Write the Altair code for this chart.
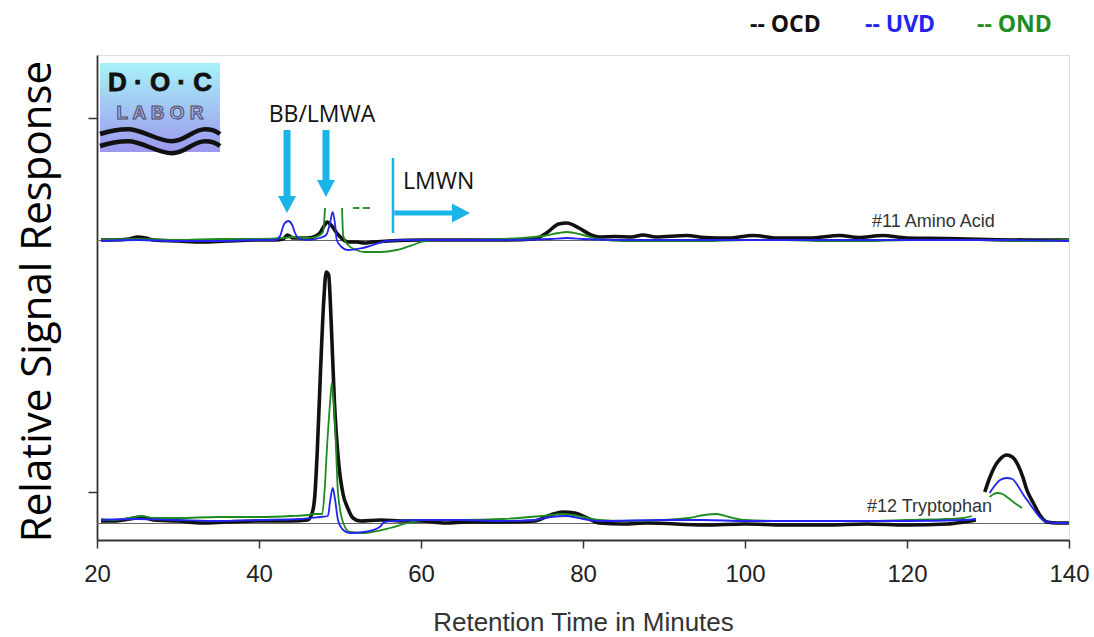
import altair as alt
import pandas as pd

# ---------------- data (retention time in minutes, relative signal) ----------------
# #11 Amino Acid (upper chromatogram)
AA_OCD_T = [20.5, 22, 24, 25, 26, 27, 30, 33, 36, 40, 42, 43, 43.5, 44.2, 46, 47, 47.6, 48.1, 48.4, 49,
            49.6, 50.3, 51, 52, 53, 54, 56, 60, 65, 70, 74, 75.5, 77, 78, 79.5, 81, 82, 84, 86, 87.4,
            89, 92.8, 95, 98, 101, 104, 108, 111.7, 114, 117, 120, 125, 130, 135, 140]
AA_OCD_V = [60.0, 60.0, 60.2, 60.6, 60.4, 60.0, 59.8, 59.6, 59.8, 60.0, 60.0, 60.2, 61.0, 60.4, 60.4, 60.8, 61.6, 63.0, 63.6, 62.8,
            61.4, 60.2, 59.6, 59.6, 59.4, 59.6, 59.8, 60.0, 60.0, 60.0, 60.2, 61.4, 63.2, 63.4, 62.4, 61.0, 60.6, 60.7, 60.6, 61.0,
            60.6, 60.9, 60.5, 60.4, 60.9, 60.4, 60.4, 60.9, 60.5, 60.9, 60.4, 60.3, 60.1, 60.0, 60.0]

AA_UVD_T = [20.5, 25, 30, 35, 40, 42, 42.6, 43.1, 43.6, 44.1, 44.4, 45, 46, 47.5, 48.3, 48.8, 49.1, 49.4, 49.6,
            50.2, 50.9, 52.8, 55.8, 58, 65, 70, 76, 78, 80, 85, 95, 100, 110, 120, 130, 140]
AA_UVD_V = [59.8, 60.0, 59.8, 59.8, 60.0, 60.0, 60.8, 63.2, 63.8, 63.0, 61.6, 60.2, 60.0, 60.4, 61.0, 63.6, 65.6, 63.0, 60.0,
            58.6, 58.0, 58.4, 59.8, 60.0, 60.0, 60.0, 60.2, 60.4, 60.2, 60.0, 60.0, 60.0, 60.0, 60.0, 60.0, 59.8]

AA_OND_T1 = [20.5, 25, 30, 35, 40, 43, 44, 46, 47, 47.9, 48.15]
AA_OND_V1 = [60.0, 60.2, 60.0, 60.2, 60.2, 60.4, 60.6, 60.4, 60.6, 61.6, 66.4]
AA_OND_T2 = [50.25, 50.4, 51, 52, 53, 55, 57, 59, 60, 62, 65, 70, 75, 77, 78, 80, 82, 85, 90, 95,
             100, 105, 110, 115, 120, 125, 130, 135, 140]
AA_OND_V2 = [66.4, 60.8, 59.0, 58.0, 57.6, 57.6, 58.0, 59.0, 59.6, 60.0, 60.0, 60.2, 60.8, 61.4, 61.6, 61.0, 60.2, 59.8, 59.8, 59.8,
             60.0, 60.0, 59.8, 59.8, 60.0, 60.0, 60.0, 59.8, 60.0]
AA_OND_T3 = [51.6, 52.4]
AA_OND_V3 = [66.4, 66.4]
AA_OND_T4 = [52.8, 53.7]
AA_OND_V4 = [66.4, 66.4]

# #12 Tryptophan (lower chromatogram)
TR_OCD_T1 = [20.5, 22, 24, 25.5, 27, 30, 33, 36, 40, 44, 46, 46.6, 46.9, 47.2, 47.6, 48.0, 48.3, 48.6, 48.9,
             49.3, 49.8, 50.4, 50.9, 51.6, 52.5, 55, 58, 60, 63, 66, 70, 74, 76, 77.5, 79, 80.5, 82, 85,
             88, 95, 100, 105, 110, 115, 120, 125, 127, 128.5]
TR_OCD_V1 = [3.8, 3.8, 4.2, 4.6, 4.0, 3.8, 3.4, 3.6, 3.8, 3.8, 4.0, 5.6, 9.0, 18.0, 34.0, 48.0, 53.6, 53.0, 44.0,
             28.0, 16.0, 9.0, 6.6, 4.4, 3.8, 4.0, 3.8, 3.8, 3.4, 3.6, 3.6, 3.8, 5.0, 5.6, 5.4, 4.4, 3.4, 3.2,
             3.4, 3.0, 3.2, 3.0, 3.0, 3.2, 3.0, 3.2, 3.6, 4.0]
TR_OCD_T2 = [129.6, 130.2, 130.8, 131.5, 132.3, 133, 133.7, 134.3, 134.8, 135.6, 136.4, 137.3, 138.5, 140]
TR_OCD_V2 = [9.6, 12.4, 14.6, 16.2, 17.0, 16.6, 15.0, 12.6, 10.0, 7.4, 5.0, 3.6, 3.4, 3.4]

TR_UVD_T1 = [20.5, 25, 30, 35, 40, 45, 47.5, 48.5, 48.8, 49.1, 49.4, 49.75, 50.4, 51.2, 53, 54.9, 55.5, 57,
             60, 65, 70, 74, 76, 78, 80, 82, 90, 95, 100, 110, 120, 127, 128.5]
TR_UVD_V1 = [4.0, 4.2, 4.0, 3.8, 4.0, 4.2, 4.6, 4.8, 8.0, 10.4, 8.0, 4.0, 2.0, 1.4, 1.6, 2.6, 3.6, 3.8,
             4.0, 4.0, 3.8, 4.0, 4.6, 4.8, 4.2, 3.8, 4.0, 4.0, 3.8, 3.8, 3.8, 4.0, 4.2]
TR_UVD_T2 = [130.2, 130.8, 131.5, 132.3, 133, 133.7, 134.3, 135, 135.7, 136.5, 137.3, 138.5, 140]
TR_UVD_V2 = [9.4, 10.8, 12.0, 12.4, 12.2, 10.8, 9.2, 7.6, 6.0, 4.4, 3.6, 3.4, 3.4]

TR_OND_T1 = [20.5, 22, 24, 25.5, 27, 30, 35, 40, 44, 46, 47, 47.8, 48.1, 48.4, 48.8, 49.0, 49.4, 49.75,
             50.4, 51.2, 52.8, 56.2, 58.3, 60.2, 65, 70, 75, 77.5, 80, 82, 85, 90, 93, 95, 96.5, 98,
             100, 105, 110, 115, 120, 125, 127, 128]
TR_OND_V1 = [4.2, 4.0, 4.4, 4.8, 4.4, 4.4, 4.6, 4.6, 4.8, 5.0, 5.2, 5.2, 10.0, 18.6, 28.0, 31.4, 22.6, 9.4,
             3.4, 1.6, 1.4, 2.4, 3.4, 4.0, 4.0, 4.2, 4.8, 5.2, 4.6, 4.0, 3.8, 4.0, 4.4, 5.0, 5.2, 4.6,
             4.0, 3.8, 3.8, 3.8, 4.0, 4.2, 4.4, 4.8]
TR_OND_T2 = [130.2, 130.7, 131.2, 131.8, 132.5, 133.3, 134.2]
TR_OND_V2 = [8.6, 9.2, 9.4, 9.2, 8.4, 7.4, 6.4]

BASELINE_V = [59.9, 3.3]
X_TICKS = [20, 40, 60, 80, 100, 120, 140]
Y_TICKS = [9.6, 84.4]

DETECTORS = ["OCD", "UVD", "OND"]
DET_COLORS = ["#111111", "#2424f0", "#1e8c1e"]

# ---------------- build tables ----------------
def build(det, segments):
    rows = []
    for s, (ts, vs) in enumerate(segments):
        for i, (t, v) in enumerate(zip(ts, vs)):
            rows.append({"det": det, "seg": f"{det}-{s}", "i": i, "t": t, "v": v})
    return pd.DataFrame(rows)

ocd = build("OCD", [(AA_OCD_T, AA_OCD_V), (TR_OCD_T1, TR_OCD_V1), (TR_OCD_T2, TR_OCD_V2)])
uvd = build("UVD", [(AA_UVD_T, AA_UVD_V), (TR_UVD_T1, TR_UVD_V1), (TR_UVD_T2, TR_UVD_V2)])
ond = build("OND", [(AA_OND_T1, AA_OND_V1), (AA_OND_T2, AA_OND_V2), (AA_OND_T3, AA_OND_V3),
                    (AA_OND_T4, AA_OND_V4), (TR_OND_T1, TR_OND_V1), (TR_OND_T2, TR_OND_V2)])

xscale = alt.Scale(domain=[20, 140], nice=False, zero=False)
yscale = alt.Scale(domain=[0, 97], nice=False, zero=False)

AX = "#333333"
AXFONT = "Liberation Sans"
xaxis = alt.Axis(values=X_TICKS, tickSize=8, tickColor=AX, tickWidth=1.5, domainColor=AX, domainWidth=1.8,
                 labelFont=AXFONT, labelFontSize=24, labelColor="#222222", labelPadding=14,
                 labelFlush=False, grid=False, title="Retention Time in Minutes",
                 titleFont=AXFONT, titleFontSize=26, titleFontWeight="normal",
                 titleColor="#333333", titleY=90, titleBaseline="alphabetic")
yaxis = alt.Axis(values=Y_TICKS, labels=False, tickSize=9, tickColor=AX, tickWidth=1.5, domainColor=AX,
                 domainWidth=1.8, grid=False, title="Relative Signal Response", titleFont="Open Sans",
                 titleFontSize=42, titleFontWeight="normal", titleColor="#000000", titleX=-47, titleY=246,
                 titleBaseline="alphabetic", titleAngle=270)

def trace(df, color, width):
    return alt.Chart(df).mark_line(color=color, strokeWidth=width, interpolate="monotone").encode(
        x=alt.X("t:Q", scale=xscale, axis=xaxis),
        y=alt.Y("v:Q", scale=yscale, axis=yaxis),
        detail="seg:N",
        order="i:Q",
    )

base_df = pd.DataFrame({"v": BASELINE_V, "t": [20, 20], "t2": [140, 140]})
baselines = alt.Chart(base_df).mark_rule(color="#666666", strokeWidth=1).encode(
    x=alt.X("t:Q", scale=xscale), x2="t2:Q", y=alt.Y("v:Q", scale=yscale))

# ---------------- annotations ----------------
CYAN = "#1ab4e8"
shafts = pd.DataFrame({"t": [43.46, 48.27], "v": [82.0, 82.0], "v2": [68.6, 71.8]})
shaft_m = alt.Chart(shafts).mark_rule(color=CYAN, strokeWidth=7, strokeCap="butt").encode(
    x=alt.X("t:Q", scale=xscale), y=alt.Y("v:Q", scale=yscale), y2="v2:Q")
heads = pd.DataFrame({"t": [43.46, 48.27], "v": [67.1, 70.3]})
head_m = alt.Chart(heads).mark_point(shape="M-1,-0.95L1,-0.95L0,0.95Z", size=324, filled=True,
                                     color=CYAN, opacity=1, strokeWidth=0).encode(
    x=alt.X("t:Q", scale=xscale), y=alt.Y("v:Q", scale=yscale))
hshaft = pd.DataFrame({"t": [56.7], "t2": [64.3], "v": [65.4]})
hshaft_m = alt.Chart(hshaft).mark_rule(color=CYAN, strokeWidth=5, strokeCap="butt").encode(
    x=alt.X("t:Q", scale=xscale), x2="t2:Q", y=alt.Y("v:Q", scale=yscale))
hhead = pd.DataFrame({"t": [64.94], "v": [65.4]})
hhead_m = alt.Chart(hhead).mark_point(shape="M-0.95,-1L0.95,0L-0.95,1Z", size=361, filled=True,
                                      color=CYAN, opacity=1, strokeWidth=0).encode(
    x=alt.X("t:Q", scale=xscale), y=alt.Y("v:Q", scale=yscale))
vline = pd.DataFrame({"t": [56.54], "v": [76.4], "v2": [61.4]})
vline_m = alt.Chart(vline).mark_rule(color=CYAN, strokeWidth=2.5).encode(
    x=alt.X("t:Q", scale=xscale), y=alt.Y("v:Q", scale=yscale), y2="v2:Q")

lbl_c = pd.DataFrame({"t": [47.78], "v": [83.6], "txt": ["BB/LMWA"]})
lbl_c_m = alt.Chart(lbl_c).mark_text(font="Open Sans", fontSize=23, color="#111111", align="center",
                                     baseline="alphabetic").encode(
    x=alt.X("t:Q", scale=xscale), y=alt.Y("v:Q", scale=yscale), text="txt:N")
lbl_l = pd.DataFrame({"t": [57.78], "v": [70.2], "txt": ["LMWN"]})
lbl_l_m = alt.Chart(lbl_l).mark_text(font="Open Sans", fontSize=23, color="#111111", align="left",
                                     baseline="alphabetic").encode(
    x=alt.X("t:Q", scale=xscale), y=alt.Y("v:Q", scale=yscale), text="txt:N")
names = pd.DataFrame({"t": [115.68, 115.06], "v": [62.6, 5.6], "txt": ["#11 Amino Acid", "#12 Tryptophan"]})
names_m = alt.Chart(names).mark_text(font="Liberation Sans", fontSize=18, color="#333333", align="left",
                                     baseline="alphabetic").encode(
    x=alt.X("t:Q", scale=xscale), y=alt.Y("v:Q", scale=yscale), text="txt:N")

# logo
logo = pd.DataFrame({"t": [20.37], "t2": [35.19], "v": [95.4], "v2": [77.6]})
logo_m = alt.Chart(logo).mark_rect(
    color=alt.Gradient(gradient="linear",
                       stops=[alt.GradientStop(color="#a8f2f8", offset=0),
                              alt.GradientStop(color="#9c98ee", offset=1)],
                       x1=0, x2=0, y1=0, y2=1)).encode(
    x=alt.X("t:Q", scale=xscale), x2="t2:Q", y=alt.Y("v:Q", scale=yscale), y2="v2:Q")
doc = pd.DataFrame({"t": [27.78], "v": [89.8], "txt": ["D · O · C"]})
doc_m = alt.Chart(doc).mark_text(font="Liberation Sans", fontWeight="bold", fontSize=26, color="#111111",
                                 align="center", baseline="alphabetic", stroke="#111111",
                                 strokeWidth=0.8).encode(
    x=alt.X("t:Q", scale=xscale), y=alt.Y("v:Q", scale=yscale), text="txt:N")
labor = pd.DataFrame({"t": [27.78], "v": [84.2], "txt": ["L A B O R"]})
labor_m = alt.Chart(labor).mark_text(font="Liberation Sans", fontWeight="bold", fontSize=19, fill="#a9a9ef",
                                     stroke="#4a4a5a", strokeWidth=1, align="center",
                                     baseline="alphabetic").encode(
    x=alt.X("t:Q", scale=xscale), y=alt.Y("v:Q", scale=yscale), text="txt:N")
WAVES = ("M-1,-0.1 C-0.85,-0.15 -0.7,-0.18 -0.53,-0.18 C-0.3,-0.18 -0.05,0.02 0.2,0.02 "
         "C0.42,0.02 0.55,-0.18 0.75,-0.18 C0.87,-0.18 0.95,-0.14 1,-0.1 "
         "M-1,0.1 C-0.85,0.05 -0.7,0.02 -0.53,0.02 C-0.3,0.02 -0.05,0.22 0.2,0.22 "
         "C0.42,0.22 0.55,0.02 0.75,0.02 C0.87,0.02 0.95,0.06 1,0.1")
wave = pd.DataFrame({"t": [27.78], "v": [80.0]})
wave_m = alt.Chart(wave).mark_point(shape=WAVES, size=14400, filled=False, stroke="#111111",
                                    strokeWidth=4.5, opacity=1).encode(
    x=alt.X("t:Q", scale=xscale), y=alt.Y("v:Q", scale=yscale))

# manual legend at top-right
leg = pd.DataFrame({"txt": ["-- OCD", "-- UVD", "-- OND"], "det": DETECTORS})
leg_layers = []
for j, (name, col) in enumerate(zip(DETECTORS, DET_COLORS)):
    leg_layers.append(
        alt.Chart(leg[leg.det == name]).mark_text(font="Open Sans", fontWeight="bold", fontSize=23, color=col,
                                                 align="left", baseline="alphabetic").encode(
            x=alt.value([653, 768, 880][j]), y=alt.value(-23), text="txt:N"))

chart = alt.layer(
    logo_m, doc_m, labor_m, wave_m,
    baselines,
    trace(ocd, DET_COLORS[0], 3.6),
    trace(ond, DET_COLORS[2], 1.8),
    trace(uvd, DET_COLORS[1], 1.8),
    shaft_m, head_m, hshaft_m, hhead_m, vline_m, lbl_c_m, lbl_l_m, names_m,
    *leg_layers,
).properties(
    width=972, height=485,
    padding={"left": 97, "top": 55, "right": 25, "bottom": 97},
    autosize=alt.AutoSizeParams(type="none"),
).configure_view(stroke="#333333", strokeWidth=1.8).configure(background="white")

chart.save("out.html", embed_options={"renderer": "svg", "actions": False})
